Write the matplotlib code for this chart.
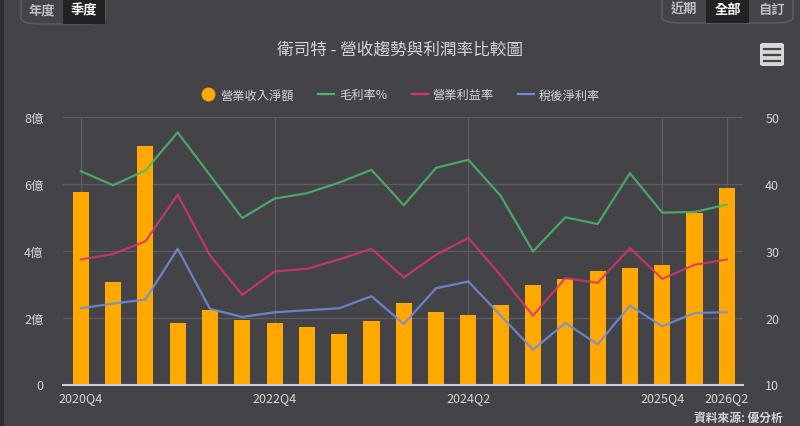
import matplotlib
matplotlib.use("Agg")
import matplotlib.pyplot as plt
from matplotlib.patches import FancyBboxPatch, Rectangle
from matplotlib.lines import Line2D

plt.rcParams['font.family'] = ['Noto Sans CJK TC', 'DejaVu Sans']

# ---- data ----
quarters = ["2020Q4", "2021Q2", "2021Q3", "2021Q4", "2022Q1", "2022Q3", "2022Q4",
            "2023Q1", "2023Q2", "2023Q3", "2023Q4", "2024Q1", "2024Q2", "2024Q3",
            "2024Q4", "2025Q1", "2025Q2", "2025Q3", "2025Q4", "2026Q1", "2026Q2"]
shown_labels = ["2020Q4", "2022Q4", "2024Q2", "2025Q4", "2026Q2"]
revenue = [5.76, 3.06, 7.13, 1.85, 2.24, 1.93, 1.85, 1.71, 1.50, 1.89, 2.43,
           2.18, 2.07, 2.39, 2.97, 3.17, 3.40, 3.47, 3.56, 5.12, 5.87]  # 億
gross_margin = [41.9, 39.8, 42.0, 47.7, 41.3, 34.9, 37.8, 38.6, 40.2, 42.1, 36.8,
                42.4, 43.6, 38.2, 29.9, 35.0, 34.0, 41.6, 35.7, 35.8, 36.9]
op_margin = [28.7, 29.5, 31.4, 38.4, 29.3, 23.4, 26.9, 27.3, 28.7, 30.3, 26.0,
             29.4, 31.9, 26.3, 20.3, 25.9, 25.2, 30.4, 25.8, 27.9, 28.7]
net_margin = [21.4, 22.1, 22.7, 30.3, 21.3, 20.1, 20.8, 21.1, 21.4, 23.2, 19.05,
              24.4, 25.4, 20.3, 15.2, 19.2, 16.0, 21.8, 18.7, 20.7, 20.8]
left_ticks = [0, 2, 4, 6, 8]
left_labels = ["0", "2億", "4億", "6億", "8億"]
right_ticks = [10, 20, 30, 40, 50]
series_names = ["營業收入淨額", "毛利率%", "營業利益率", "稅後淨利率"]

BG = '#444448'
TXT = '#d4d4d8'
GRID = '#5c5c62'
ORANGE = '#ffa800'
GREEN = '#4cb86a'
RED = '#d8346c'
BLUE = '#6f8fdc'

fig = plt.figure(figsize=(8, 4.27), dpi=100, facecolor=BG)
ax = fig.add_axes([63/800, 1-385.5/427, (743-63)/800, (385.5-118)/427])
ax.set_facecolor(BG)
x = list(range(len(quarters)))
ax.bar(x, revenue, width=0.5, color=ORANGE, zorder=2)
ax.set_ylim(0, 8)
ax.set_xlim(-0.55, 20.5)
ax.set_yticks(left_ticks)
ax.set_yticklabels(left_labels)
tick_idx = [quarters.index(q) for q in shown_labels]
ax.set_xticks(tick_idx)
ax.set_xticklabels(shown_labels)
ax.grid(True, color=GRID, linewidth=0.9, zorder=0)
ax.set_axisbelow(True)
for s in ['top', 'right', 'left']:
    ax.spines[s].set_visible(False)
ax.spines['bottom'].set_color('#c8cce4')
ax.spines['bottom'].set_linewidth(1.5)
ax.tick_params(axis='both', length=0, colors=TXT, labelsize=9)
ax.tick_params(axis='x', pad=5)
ax.tick_params(axis='y', pad=14)

ax2 = ax.twinx()
ax2.set_ylim(10, 50)
ax2.set_yticks(right_ticks)
ax2.tick_params(axis='y', length=0, colors=TXT, labelsize=9, pad=16)
for s in ax2.spines.values():
    s.set_visible(False)
ax2.plot(x, gross_margin, color=GREEN, lw=1.6, alpha=0.85)
ax2.plot(x, op_margin, color=RED, lw=1.6, alpha=0.85)
ax2.plot(x, net_margin, color=BLUE, lw=1.6, alpha=0.85)

# title
fig.text(0.5, 1-50/427, "衛司特 - 營收趨勢與利潤率比較圖", ha='center', va='center',
         color=TXT, fontsize=12)

# legend
handles = [Line2D([], [], marker='o', color=ORANGE, linestyle='None', markersize=9),
           Line2D([], [], color=GREEN, lw=1.6),
           Line2D([], [], color=RED, lw=1.6),
           Line2D([], [], color=BLUE, lw=1.6)]
leg = fig.legend(handles, series_names, loc='center', bbox_to_anchor=(0.5, 1-96/427),
                 ncol=4, frameon=False, fontsize=8.8, labelcolor=TXT,
                 handlelength=1.3, handletextpad=0.4, columnspacing=2.0)

# buttons
def pill(x0, x1, y0, y1, labels, sel):
    W, H = 800, 427
    fig.patches.append(FancyBboxPatch((x0/W, 1-y1/H), (x1-x0)/W, (y1-y0)/H,
                                      boxstyle="round,pad=0,rounding_size=0.025",
                                      transform=fig.transFigure, facecolor=BG,
                                      edgecolor='#5e5e64', lw=1.0, mutation_aspect=427/800))
    n = len(labels)
    w = (x1-x0)/n
    for i, lab in enumerate(labels):
        cx = x0 + w*(i+0.5)
        if i == sel:
            fig.patches.append(Rectangle(((x0+w*i)/W, 1-y1/H), w/W, (y1-y0)/H,
                                         transform=fig.transFigure, facecolor='#222224',
                                         edgecolor='none'))
        fig.text(cx/W, 1-((y0+y1)/2 + 1)/H, lab, ha='center', va='center', fontsize=9.5,
                 color='#ffffff' if i == sel else '#bdbdc2',
                 fontweight='bold')

pill(21, 105, -6, 25, ["年度", "季度"], 1)
pill(662, 793, -6, 24, ["近期", "全部", "自訂"], 1)

# menu icon
W, H = 800, 427
fig.patches.append(FancyBboxPatch((760/W, 1-67/H), 24/W, 23/H,
                                  boxstyle="round,pad=0,rounding_size=0.004",
                                  transform=fig.transFigure, facecolor='#d8d8da',
                                  edgecolor='none'))
for yy in [49.5, 55.5, 61.5]:
    fig.lines.append(Line2D([764/W, 780/W], [1-yy/H, 1-yy/H], transform=fig.transFigure,
                            color='#444448', lw=1.6))

# source
fig.text(783/W, 1-418/H, "資料來源: 優分析", ha='right', va='center', color=TXT,
         fontsize=8.5, fontweight='bold')

# left dark strip
fig.patches.append(Rectangle((0, 0), 4/W, 1, transform=fig.transFigure,
                             facecolor='#2c2c30', edgecolor='none'))

fig.savefig("out.png", dpi=100, facecolor=BG)
